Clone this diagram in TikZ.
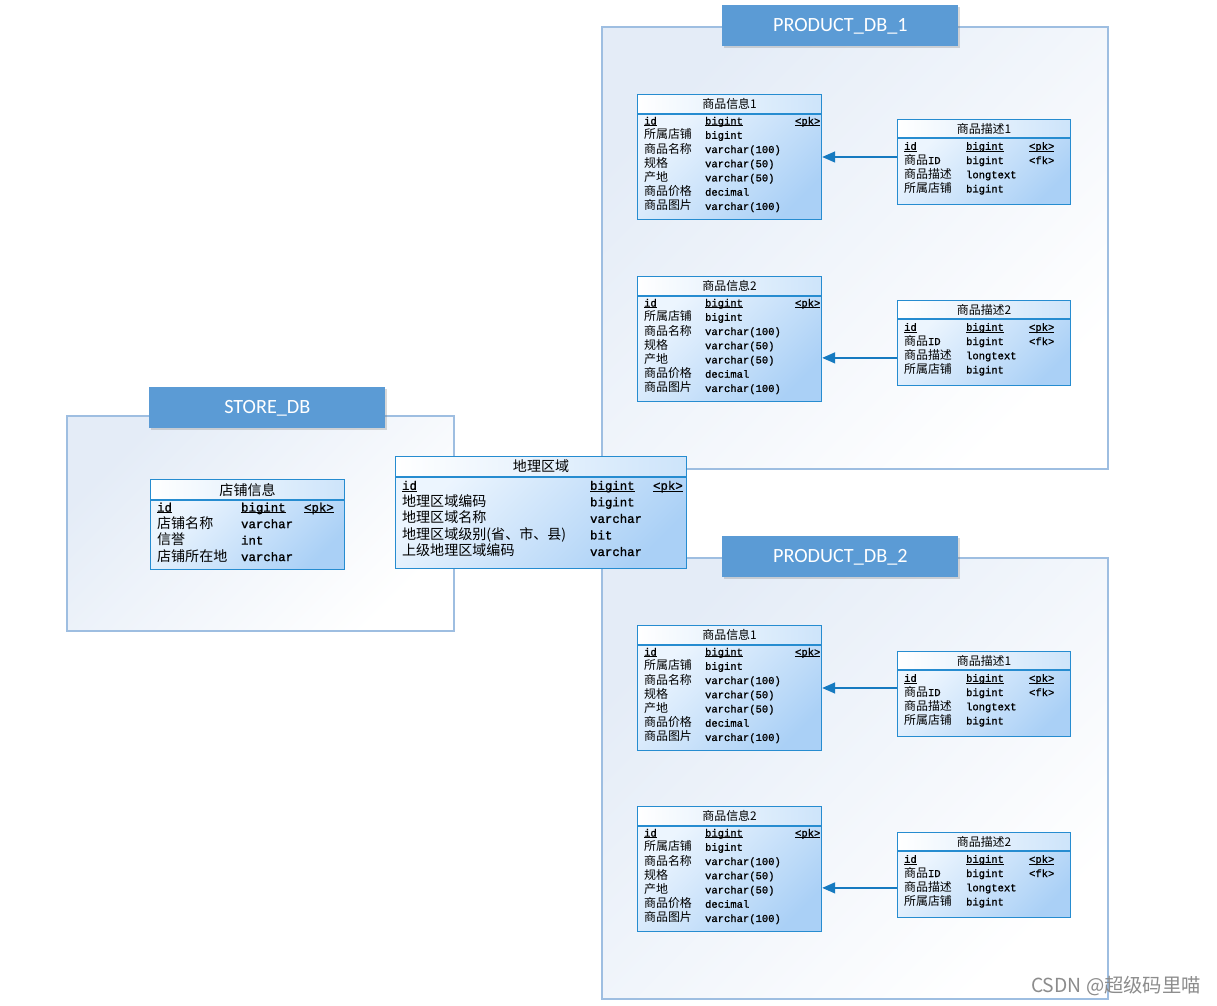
\documentclass[tikz,border=0pt]{standalone}
\usepackage{fontspec}
\setmainfont{Noto Sans CJK SC}
\setmonofont{Liberation Mono}[Scale=0.88, FakeBold=1.2]
\newfontfamily\hdfont{Carlito}
\usetikzlibrary{arrows.meta,shadows,calc}

\definecolor{headblue}{RGB}{91,155,213}
\definecolor{dbline}{RGB}{158,190,225}
\definecolor{dbshade}{RGB}{228,236,247}
\definecolor{tabline}{RGB}{38,140,208}
\definecolor{tabtop}{RGB}{236,245,254}
\definecolor{tabshade}{RGB}{170,208,246}
\definecolor{titleshade}{RGB}{205,228,250}
\definecolor{fkblue}{RGB}{22,122,192}

\newcommand\infofont{\fontsize{6.8}{7.9}\selectfont}
\newcommand\storefont{\fontsize{8}{8.8}\selectfont}
% underline that crosses the descenders, as in the modelling tool
\newcommand\keyul[1]{\leavevmode\setbox0=\hbox{#1}\rlap{\rule[-0.9pt]{\wd0}{0.45pt}}\box0}

\newcommand\infobody{%
\begin{tabular}{@{}p{1.22cm}@{}p{1.8cm}@{}l@{}}
\keyul{\ttfamily id} & \keyul{\ttfamily bigint} & \keyul{\ttfamily <pk>}\\
所属店铺 & \ttfamily bigint & \\
商品名称 & \ttfamily varchar(100) & \\
规格 & \ttfamily varchar(50) & \\
产地 & \ttfamily varchar(50) & \\
商品价格 & \ttfamily decimal & \\
商品图片 & \ttfamily varchar(100) & \\[3pt]
\end{tabular}}

\newcommand\descbody{%
\begin{tabular}{@{}p{1.24cm}@{}p{1.26cm}@{}l@{}}
\keyul{\ttfamily id} & \keyul{\ttfamily bigint} & \keyul{\ttfamily <pk>}\\
商品{\ttfamily ID} & \ttfamily bigint & \ttfamily <fk>\\
商品描述 & \ttfamily longtext & \\
所属店铺 & \ttfamily bigint & \\[4pt]
\end{tabular}}

\tikzset{
  dbbox/.style={draw=dbline, line width=0.8pt, top color=dbshade, bottom color=white, shading angle=45},
  dbhead/.style={fill=headblue, text=white, font=\hdfont\fontsize{11.5}{13}\selectfont,
    minimum width=4.72cm, minimum height=0.82cm, anchor=north west, inner sep=0pt,
    drop shadow={shadow xshift=0.7pt, shadow yshift=-0.7pt, opacity=0.3}},
  tabtitle/.style={draw=tabline, line width=0.7pt, left color=white, right color=titleshade,
    anchor=north west, inner sep=0pt},
  tabbody/.style={draw=tabline, line width=0.7pt, top color=tabtop, bottom color=tabshade, shading angle=45,
    anchor=north west, align=left, inner xsep=0.13cm, inner ysep=0pt},
  fkarrow/.style={draw=fkblue, line width=0.85pt, -{Triangle[length=0.26cm, width=0.22cm]}},
  watermark/.style={text=black!45, font=\fontsize{11}{13}\selectfont}
}

\begin{document}
\begin{tikzpicture}[x=0.02cm, y=-0.02cm]
    \useasboundingbox (0,0) rectangle (1217,1005);

    % database frames
    \draw[dbbox] (602,27) rectangle (1108,469);
    \draw[dbbox] (67,416) rectangle (454,631);
    \draw[dbbox] (602,558) rectangle (1108,999);

    \node[dbhead] (hdA) at (722,5) {PRODUCT\_DB\_1};
    \node[dbhead] (hdS) at (149,387) {STORE\_DB};
    \node[dbhead] (hdB) at (722,536) {PRODUCT\_DB\_2};

    % PRODUCT_DB_1
    \node[tabtitle, font=\infofont, minimum width=3.68cm, minimum height=0.38cm] (iA1t) at (637,94) {商品信息1};
    \node[tabbody, font=\infofont, text width=3.42cm, minimum height=2.08cm] (iA1) at (iA1t.south west) {\infobody};
    \node[tabtitle, font=\infofont, minimum width=3.46cm, minimum height=0.36cm] (dA1t) at (897,119) {商品描述1};
    \node[tabbody, font=\infofont, text width=3.2cm, minimum height=1.32cm] (dA1) at (dA1t.south west) {\descbody};
    \node[tabtitle, font=\infofont, minimum width=3.68cm, minimum height=0.38cm] (iA2t) at (637,276) {商品信息2};
    \node[tabbody, font=\infofont, text width=3.42cm, minimum height=2.08cm] (iA2) at (iA2t.south west) {\infobody};
    \node[tabtitle, font=\infofont, minimum width=3.46cm, minimum height=0.36cm] (dA2t) at (897,300) {商品描述2};
    \node[tabbody, font=\infofont, text width=3.2cm, minimum height=1.32cm] (dA2) at (dA2t.south west) {\descbody};

    % PRODUCT_DB_2
    \node[tabtitle, font=\infofont, minimum width=3.68cm, minimum height=0.38cm] (iB1t) at (637,625) {商品信息1};
    \node[tabbody, font=\infofont, text width=3.42cm, minimum height=2.08cm] (iB1) at (iB1t.south west) {\infobody};
    \node[tabtitle, font=\infofont, minimum width=3.46cm, minimum height=0.36cm] (dB1t) at (897,651) {商品描述1};
    \node[tabbody, font=\infofont, text width=3.2cm, minimum height=1.32cm] (dB1) at (dB1t.south west) {\descbody};
    \node[tabtitle, font=\infofont, minimum width=3.68cm, minimum height=0.38cm] (iB2t) at (637,806) {商品信息2};
    \node[tabbody, font=\infofont, text width=3.42cm, minimum height=2.08cm] (iB2) at (iB2t.south west) {\infobody};
    \node[tabtitle, font=\infofont, minimum width=3.46cm, minimum height=0.36cm] (dB2t) at (897,832) {商品描述2};
    \node[tabbody, font=\infofont, text width=3.2cm, minimum height=1.32cm] (dB2) at (dB2t.south west) {\descbody};

    % STORE_DB and the shared table
    \node[tabtitle, font=\storefont, minimum width=3.88cm, minimum height=0.4cm] (shopt) at (150,479) {店铺信息};
    \node[tabbody, font=\storefont, text width=3.62cm, minimum height=1.36cm] (shop) at (shopt.south west) {%
      \begin{tabular}{@{}p{1.68cm}@{}p{1.26cm}@{}l@{}}
      \keyul{\ttfamily id} & \keyul{\ttfamily bigint} & \keyul{\ttfamily <pk>}\\
      店铺名称 & \ttfamily varchar & \\
      信誉 & \ttfamily int & \\
      店铺所在地 & \ttfamily varchar & \\[2pt]
      \end{tabular}};
    \node[tabtitle, font=\storefont, minimum width=5.82cm, minimum height=0.4cm] (areat) at (395,456) {地理区域};
    \node[tabbody, font=\storefont, text width=5.56cm, minimum height=1.82cm] (area) at (areat.south west) {%
      \begin{tabular}{@{}p{3.76cm}@{}p{1.26cm}@{}l@{}}
      \keyul{\ttfamily id} & \keyul{\ttfamily bigint} & \keyul{\ttfamily <pk>}\\
      地理区域编码 & \ttfamily bigint & \\
      地理区域名称 & \ttfamily varchar & \\
      地理区域级别(省、市、县) & \ttfamily bit & \\
      上级地理区域编码 & \ttfamily varchar & \\[4pt]
      \end{tabular}};

    % foreign keys
    \coordinate (jA1) at ($(iA1t.north east)!0.5!(iA1.south east)$);
    \coordinate (jA2) at ($(iA2t.north east)!0.65!(iA2.south east)$);
    \coordinate (jB1) at ($(iB1t.north east)!0.5!(iB1.south east)$);
    \coordinate (jB2) at ($(iB2t.north east)!0.65!(iB2.south east)$);
    \draw[fkarrow] (dA1.west |- jA1) -- (jA1);
    \draw[fkarrow] (dA2.west |- jA2) -- (jA2);
    \draw[fkarrow] (dB1.west |- jB1) -- (jB1);
    \draw[fkarrow] (dB2.west |- jB2) -- (jB2);

    \node[watermark] (mark) at (1116,986) {CSDN @超级码里喵};
\end{tikzpicture}
\end{document}
